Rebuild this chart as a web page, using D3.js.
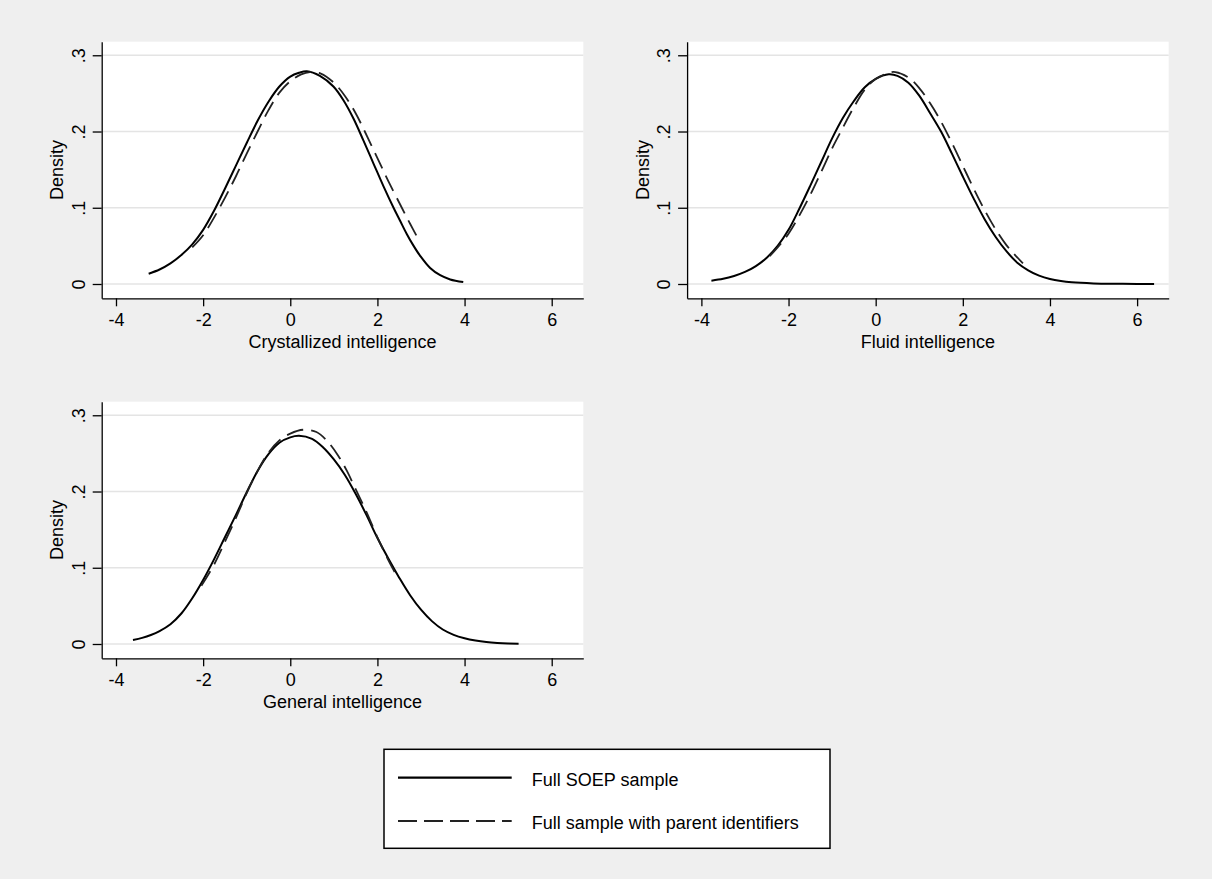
<!DOCTYPE html>
<html>
<head>
<meta charset="utf-8">
<script src="https://cdn.jsdelivr.net/npm/d3@7"></script>
<style>
  body { margin: 0; background: #efefef; }
  text { font-family: "Liberation Sans", Arial, Helvetica, sans-serif; fill: #000; }
</style>
</head>
<body>
<div id="container"></div>
<script>
// tick values and labels
const xTicks = [-4, -2, 0, 2, 4, 6];
const yTicks = [0, 0.1, 0.2, 0.3];
const yTickLabels = ["0", ".1", ".2", ".3"];
const yTitle = "Density";
const panelTitles = ["Crystallized intelligence", "Fluid intelligence", "General intelligence"];
const seriesNames = ["Full SOEP sample", "Full sample with parent identifiers"];

// density curves, [x, density]
const crystFull = [[-3.25,.0135],[-3.0,.019],[-2.75,.027],[-2.5,.038],[-2.25,.052],[-2.0,.071],[-1.75,.096],
  [-1.5,.125],[-1.25,.155],[-1.0,.185],[-0.75,.214],[-0.5,.239],[-0.25,.259],[0,.272],[0.2,.277],[0.38,.279],
  [0.68,.273],[0.99,.259],[1.22,.241],[1.45,.217],[1.68,.188],[1.91,.158],[2.14,.128],[2.37,.100],[2.52,.083],
  [2.67,.066],[2.82,.051],[2.98,.037],[3.21,.021],[3.44,.0115],[3.67,.006],[3.97,.0025]];
const crystParent = [[-2.25,.048],[-2.0,.064],[-1.75,.087],[-1.5,.113],[-1.25,.141],[-1.0,.171],[-0.75,.200],
  [-0.5,.228],[-0.25,.251],[0,.266],[0.25,.275],[0.45,.278],[0.7,.276],[1.0,.264],[1.25,.247],[1.5,.224],
  [1.71,.200],[2.0,.165],[2.25,.135],[2.56,.100],[2.75,.079],[2.91,.062]];

const fluidFull = [[-3.77,.0044],[-3.5,.0068],[-3.25,.0105],[-3.0,.0158],[-2.75,.0235],[-2.5,.0345],[-2.25,.050],
  [-2.0,.071],[-1.75,.099],[-1.5,.129],[-1.25,.160],[-1.0,.191],[-0.75,.218],[-0.5,.240],[-0.25,.258],[0,.269],
  [0.3,.275],[0.5,.273],[0.75,.264],[1.0,.247],[1.25,.224],[1.5,.200],[1.75,.171],[2.0,.141],[2.25,.112],
  [2.5,.085],[2.75,.062],[3.0,.043],[3.25,.028],[3.5,.018],[3.75,.011],[4.0,.0065],[4.25,.0038],[4.5,.0022],
  [5.0,.0008],[5.5,.0003],[6.0,.0001],[6.39,0]];
const fluidParent = [[-2.43,.0367],[-2.25,.048],[-2.0,.066],[-1.75,.090],[-1.5,.117],[-1.25,.147],[-1.0,.178],
  [-0.8,.200],[-0.5,.232],[-0.25,.255],[0,.269],[0.3,.277],[0.45,.278],[0.75,.271],[1.0,.257],[1.25,.237],
  [1.5,.213],[1.75,.185],[2.0,.155],[2.25,.125],[2.5,.097],[2.75,.072],[3.0,.051],[3.2,.038],[3.38,.027]];

const generalFull = [[-3.61,.0052],[-3.4,.008],[-3.2,.0118],[-3.0,.017],[-2.75,.026],[-2.5,.040],[-2.25,.060],
  [-2.0,.084],[-1.75,.111],[-1.5,.140],[-1.25,.169],[-1.0,.199],[-0.75,.227],[-0.5,.249],[-0.25,.264],[0,.271],
  [0.2,.273],[0.5,.269],[0.75,.258],[1.0,.242],[1.25,.222],[1.5,.197],[1.75,.169],[2.0,.139],[2.25,.112],
  [2.5,.087],[2.75,.064],[3.0,.045],[3.25,.030],[3.5,.019],[3.75,.012],[4.0,.0075],[4.25,.0045],[4.5,.0025],
  [4.75,.0013],[5.0,.0006],[5.24,.0003]];
const generalParent = [[-2.04,.0765],[-1.75,.104],[-1.5,.134],[-1.25,.165],[-1.0,.198],[-0.75,.227],[-0.5,.251],
  [-0.25,.267],[0,.276],[0.3,.281],[0.6,.278],[0.85,.266],[1.1,.247],[1.3,.227],[1.5,.203],[1.75,.173],
  [2.0,.140],[2.25,.110],[2.4,.094]];

const panels = [
  {title: panelTitles[0], full: crystFull, parent: crystParent, left: 101.7, top: 41.7},
  {title: panelTitles[1], full: fluidFull, parent: fluidParent, left: 687.1, top: 41.7},
  {title: panelTitles[2], full: generalFull, parent: generalParent, left: 101.7, top: 401.7}
];

const plotW = 481.6, plotH = 256.6;
const fontSize = 18;

let svg = d3.select("#container")
  .append("svg")
    .attr("width", 1212)
    .attr("height", 879)
;

svg.append("rect")
  .attr("width", 1212)
  .attr("height", 879)
  .attr("fill", "#efefef")
;

let x = d3.scaleLinear().domain([-4.328, 6.725]).range([0, plotW]);
let y = d3.scaleLinear().domain([-0.01876, 0.3178]).range([plotH, 0]);

let line = d3.line()
  .x(d => x(d[0]))
  .y(d => y(d[1]))
  .curve(d3.curveCatmullRom)
;

function drawPanel(p) {
  let g = svg.append("g").attr("transform", "translate(" + p.left + "," + p.top + ")");

  g.append("rect")
    .attr("width", plotW)
    .attr("height", plotH)
    .attr("fill", "#fff")
  ;

  g.selectAll(".grid").data(yTicks).enter()
    .append("line")
      .attr("class", "grid")
      .attr("x1", 0)
      .attr("x2", plotW)
      .attr("y1", d => y(d))
      .attr("y2", d => y(d))
      .attr("stroke", "#e4e4e4")
      .attr("stroke-width", 1.5)
  ;

  g.append("path")
    .datum(p.full)
    .attr("d", line)
    .attr("fill", "none")
    .attr("stroke", "#000")
    .attr("stroke-width", 2)
  ;

  g.append("path")
    .datum(p.parent)
    .attr("d", line)
    .attr("fill", "none")
    .attr("stroke", "#222")
    .attr("stroke-width", 1.8)
    .attr("stroke-dasharray", "17,8")
  ;

  let xAxis = g.append("g")
    .attr("transform", "translate(0," + plotH + ")")
    .call(d3.axisBottom(x).tickValues(xTicks).tickSize(8).tickSizeOuter(0).tickPadding(7).tickFormat(d3.format("d")));

  let yAxis = g.append("g")
    .call(d3.axisLeft(y).tickValues(yTicks).tickSize(9).tickSizeOuter(0)
      .tickFormat((d, i) => yTickLabels[i]));

  yAxis.selectAll("text")
    .attr("x", 0)
    .attr("dy", null)
    .attr("text-anchor", "middle")
    .attr("transform", "translate(-17,0) rotate(-90)")
  ;

  [xAxis, yAxis].forEach(a => {
    a.select(".domain").attr("stroke", "#000").attr("stroke-width", 1.3);
    a.selectAll(".tick line").attr("stroke", "#000").attr("stroke-width", 1.3);
    a.selectAll("text")
      .attr("font-size", fontSize)
      .attr("font-family", "Liberation Sans, Arial, sans-serif")
      .attr("fill", "#000");
  });
  // d3 axis text is "−" by default, Stata uses a hyphen
  xAxis.selectAll("text").text(d => String(d).replace("−", "-"));

  g.append("text")
    .attr("x", plotW / 2)
    .attr("y", 306.3)
    .attr("text-anchor", "middle")
    .attr("font-size", fontSize)
    .text(p.title)
  ;

  g.append("text")
    .attr("transform", "translate(-38.2," + (plotH / 2) + ") rotate(-90)")
    .attr("text-anchor", "middle")
    .attr("font-size", fontSize)
    .text(yTitle)
  ;
}

panels.forEach(drawPanel);

// legend
let legend = svg.append("g");

legend.append("rect")
  .attr("x", 384)
  .attr("y", 749.3)
  .attr("width", 446)
  .attr("height", 99)
  .attr("fill", "#fff")
  .attr("stroke", "#000")
  .attr("stroke-width", 1.5)
;

let items = legend.selectAll(".item").data(seriesNames).enter()
  .append("g")
    .attr("class", "item")
    .attr("transform", (d, i) => "translate(0," + (i * 43.3) + ")")
;

items.append("line")
  .attr("x1", 398)
  .attr("x2", 511.7)
  .attr("y1", 777.7)
  .attr("y2", 777.7)
  .attr("stroke", (d, i) => i == 0 ? "#000" : "#222")
  .attr("stroke-width", (d, i) => i == 0 ? 2.2 : 2)
  .attr("stroke-dasharray", (d, i) => i == 0 ? null : "19,7")
;

items.append("text")
  .attr("x", 531.7)
  .attr("y", 786)
  .attr("font-size", fontSize)
  .text(d => d)
;
</script>
</body>
</html>
